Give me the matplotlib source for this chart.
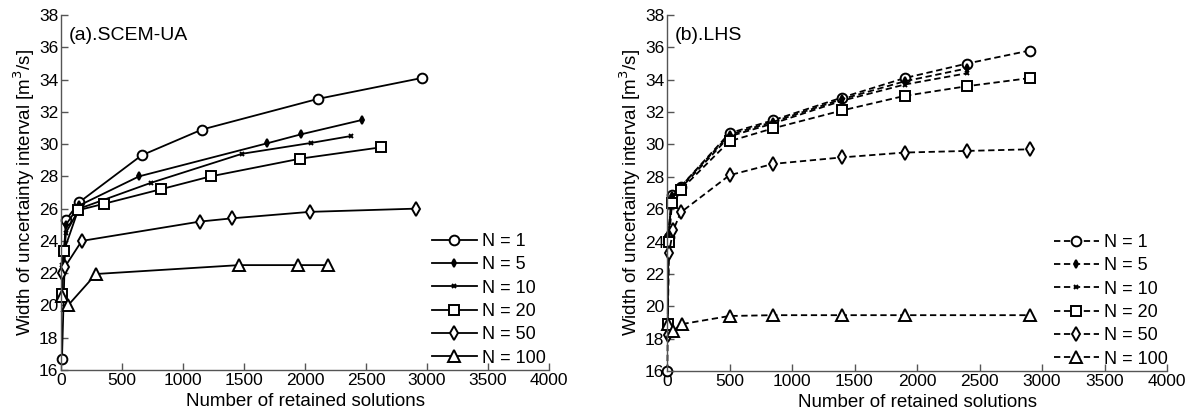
import matplotlib
matplotlib.use("Agg")
import matplotlib.pyplot as plt

plt.rcParams['font.family'] = ['Liberation Sans', 'DejaVu Sans']

labels = ["N = 1", "N = 5", "N = 10", "N = 20", "N = 50", "N = 100"]

# (a) SCEM-UA
sc_x = [
    [8, 40, 150, 660, 1155, 2105, 2960],
    [10, 40, 150, 640, 1690, 1965, 2470],
    [10, 40, 150, 737, 1484, 2048, 2377],
    [8, 25, 140, 352, 818, 1227, 1963, 2623],
    [10, 33, 170, 1140, 1403, 2040, 2910],
    [10, 57, 287, 1460, 1946, 2188],
]
sc_y = [
    [16.7, 25.3, 26.4, 29.3, 30.9, 32.8, 34.1],
    [22.0, 25.0, 26.2, 28.0, 30.05, 30.6, 31.5],
    [22.5, 24.5, 26.0, 27.6, 29.4, 30.07, 30.5],
    [20.7, 23.4, 25.9, 26.3, 27.2, 28.0, 29.1, 29.8],
    [22.0, 22.4, 24.0, 25.2, 25.4, 25.8, 26.0],
    [20.6, 20.0, 21.95, 22.5, 22.5, 22.5],
]

# (b) LHS
lhs_x = [
    [3, 12, 40, 110, 500, 850, 1400, 1900, 2400, 2900],
    [8, 40, 110, 500, 850, 1400, 1900, 2400],
    [8, 40, 110, 500, 850, 1400, 1900, 2400],
    [5, 15, 40, 110, 500, 850, 1400, 1900, 2400, 2900],
    [5, 15, 50, 110, 500, 850, 1400, 1900, 2400, 2900],
    [5, 50, 120, 500, 850, 1400, 1900, 2900],
]
lhs_y = [
    [16.0, 24.3, 26.9, 27.4, 30.7, 31.5, 32.9, 34.1, 35.0, 35.8],
    [24.4, 26.8, 27.4, 30.6, 31.4, 32.8, 33.9, 34.7],
    [24.2, 26.7, 27.3, 30.5, 31.3, 32.7, 33.7, 34.4],
    [18.9, 24.0, 26.4, 27.2, 30.2, 31.0, 32.1, 33.0, 33.6, 34.1],
    [18.2, 23.3, 24.7, 25.8, 28.1, 28.8, 29.2, 29.5, 29.6, 29.7],
    [18.9, 18.5, 18.9, 19.4, 19.45, 19.45, 19.45, 19.45],
]

markers = ['o', 'd', 'x', 's', 'd', '^']
msizes = [7, 4, 3.5, 7, 7, 8]
filled = [False, True, True, False, False, False]

fig = plt.figure(figsize=(11.95, 4.17), dpi=100)
axA = fig.add_axes([61/1195, 47/417, 488/1195, 355/417])
axB = fig.add_axes([667/1195, 46/417, 500/1195, 356/417])

def draw(ax, xs, ys, ls, title, anchor):
    for i in range(len(labels)):
        ax.plot(xs[i], ys[i], color='black', linestyle=ls, linewidth=1.3,
                marker=markers[i], markersize=msizes[i],
                markerfacecolor=('black' if filled[i] else 'white'),
                markeredgecolor='black', markeredgewidth=1.4,
                label=labels[i], clip_on=False)
    ax.set_xlim(0, 4000)
    ax.set_ylim(16, 38)
    ax.set_xticks(range(0, 4001, 500))
    ax.set_yticks(range(16, 39, 2))
    for s in ['top', 'right']:
        ax.spines[s].set_visible(False)
    for s in ['left', 'bottom']:
        ax.spines[s].set_color('#555555')
        ax.spines[s].set_linewidth(1.0)
    ax.tick_params(direction='in', length=5, width=1, color='#555555',
                   labelsize=12.5, pad=2)
    ax.set_xlabel('Number of retained solutions', fontsize=13.5, labelpad=4)
    ax.set_ylabel('Width of uncertainty interval [m$^3$/s]', fontsize=13.5, labelpad=1)
    ax.text(0.015, 0.965, title, transform=ax.transAxes, fontsize=14,
            va='top', ha='left')
    ax.legend(loc='lower right', bbox_to_anchor=anchor, frameon=False,
              fontsize=13, handlelength=2.5, handletextpad=0.3,
              labelspacing=0.35, borderpad=0.2)

draw(axA, sc_x, sc_y, '-', '(a).SCEM-UA', (1.02, -0.026))
draw(axB, lhs_x, lhs_y, (0, (3.5, 2)), '(b).LHS', (1.028, -0.026))

fig.savefig('out.png', dpi=100)
